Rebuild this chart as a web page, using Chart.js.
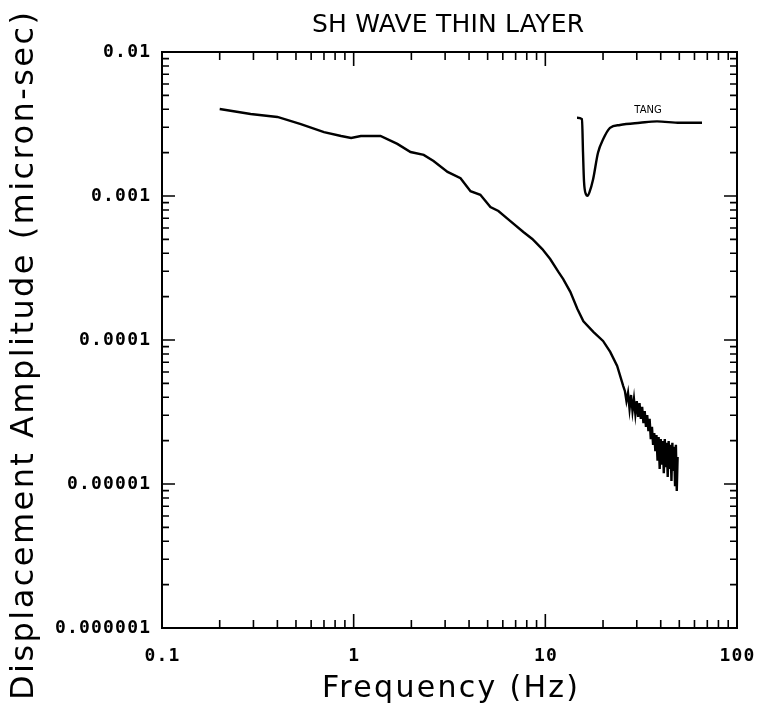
<!DOCTYPE html>
<html>
<head>
<meta charset="utf-8">
<script src="https://cdn.jsdelivr.net/npm/chart.js@4/dist/chart.umd.min.js"></script>
<style>
  body { margin: 0; background: #fff; }
</style>
</head>
<body>
<canvas id="spectrum" width="760" height="710"></canvas>
<script>
// Displacement spectrum, SH wave through a thin layer
const freqHz = [
    0.2, 0.29, 0.4, 0.53, 0.7, 0.86, 0.97, 1.09, 1.38, 1.69, 1.98, 2.32, 2.61, 3.09,
    3.61, 4.07, 4.58, 5.17, 5.69, 6.57, 7.68, 8.55, 9.64, 10.6, 11.7, 12.4, 13.5,
    14.7, 15.8, 17.8, 20.0, 21.8, 23.7, 25.5
];
const amplitude = [
    0.00402, 0.00371, 0.00354, 0.00316, 0.00278, 0.00261, 0.00253, 0.00261, 0.00261,
    0.00230, 0.00202, 0.00193, 0.00175, 0.00147, 0.00133, 0.00108, 0.00102, 0.000839,
    0.000787, 0.000670, 0.000562, 0.000503, 0.000428, 0.000365, 0.000297, 0.000265,
    0.000216, 0.000164, 0.000135, 0.000114, 0.0000985, 0.0000826, 0.0000660, 0.0000479
];
// high-frequency end, where the spectrum turns ragged
const rippleHz = [
    26.0, 26.5, 27.0, 27.5, 28.0, 28.5, 29.0, 29.5, 30.0, 30.5, 31.0, 31.5, 32.0, 32.5,
    33.0, 33.5, 34.0, 34.5, 35.0, 35.5, 36.0, 36.5, 37.0, 37.5, 38.0, 38.5, 39.0, 39.5,
    40.0, 40.5, 41.0, 41.5, 42.0, 42.5, 43.0, 43.5, 44.0, 44.5, 45.0, 45.5, 46.0, 46.5,
    47.0, 47.5, 48.0, 48.5, 49.0
];
const rippleAmp = [
    4.43e-5, 3.77e-5, 4.29e-5, 3.32e-5, 4.15e-5, 3.21e-5, 3.89e-5, 3.06e-5, 3.77e-5, 2.92e-5,
    3.65e-5, 2.83e-5, 3.43e-5, 2.65e-5, 3.21e-5, 2.49e-5, 3.01e-5, 2.33e-5, 2.83e-5, 2.05e-5,
    2.49e-5, 1.87e-5, 2.26e-5, 1.69e-5, 2.19e-5, 1.45e-5, 2.12e-5, 1.27e-5, 2.05e-5, 1.36e-5,
    1.99e-5, 1.19e-5, 2.05e-5, 1.31e-5, 1.93e-5, 1.12e-5, 1.99e-5, 1.27e-5, 1.87e-5, 1.05e-5,
    1.93e-5, 1.23e-5, 1.81e-5, 9.84e-6, 1.87e-5, 8.94e-6, 1.54e-5
];

// transverse (TANG) waveform shown as an inset
const tangTime = [0, 2.0, 2.4, 2.8, 3.6, 4.2, 5.0, 6.4, 8.4, 10.4, 13.2, 17.2, 25.2, 32, 41.2, 50];
const tangVel = [0.07, 0.05, -0.4, -0.8, -0.98, -1.0, -0.95, -0.78, -0.41, -0.23, -0.07, -0.03, 0, 0.02, 0, 0];

const xTicks = [0.1, 1, 10, 100];
const xTickLabels = ['0.1', '1', '10', '100'];
const yTicks = [0.000001, 0.00001, 0.0001, 0.001, 0.01];
const yTickLabels = ['0.000001', '0.00001', '0.0001', '0.001', '0.01'];

function toPoints(xs, ys) {
    return xs.map((x, i) => ({ x: x, y: ys[i] }));
}

// 1..9 times each power of ten between min and max
function decadeTicks(min, max) {
    const out = [];
    for (let e = Math.round(Math.log10(min)); e < Math.round(Math.log10(max)); e++) {
        for (let k = 1; k < 10; k++) out.push({ v: k * Math.pow(10, e), major: k === 1 });
    }
    out.push({ v: max, major: true });
    return out;
}

function spaced(ctx, text, x, y, gap, align) {
    ctx.letterSpacing = '0px';
    const w = ctx.measureText(text).width + gap * (text.length - 1);
    const left = align === 'right' ? x - w : align === 'center' ? x - w / 2 : x;
    ctx.letterSpacing = gap + 'px';
    ctx.textAlign = 'left';
    ctx.fillText(text, left, y);
}

function fitText(ctx, text, cx, y, width) {
    ctx.letterSpacing = '0px';
    const gap = (width - ctx.measureText(text).width) / (text.length - 1);
    spaced(ctx, text, cx, y, gap, 'center');
}

const framePlugin = {
    id: 'frame',
    afterDraw(chart) {
        const { ctx, chartArea: a, scales } = chart;
        ctx.save();
        ctx.strokeStyle = '#000';
        ctx.fillStyle = '#000';

        ctx.lineWidth = 2;
        ctx.strokeRect(a.left, a.top, a.right - a.left, a.bottom - a.top);

        // inward ticks on all four sides
        ctx.lineWidth = 1.6;
        ctx.beginPath();
        decadeTicks(0.1, 100).forEach(t => {
            const px = scales.x.getPixelForValue(t.v);
            const len = t.major ? 14 : 8;
            ctx.moveTo(px, a.bottom); ctx.lineTo(px, a.bottom - len);
            ctx.moveTo(px, a.top); ctx.lineTo(px, a.top + len);
        });
        decadeTicks(0.000001, 0.01).forEach(t => {
            const py = scales.y.getPixelForValue(t.v);
            const len = t.major ? 13 : 7;
            ctx.moveTo(a.left, py); ctx.lineTo(a.left + len, py);
            ctx.moveTo(a.right, py); ctx.lineTo(a.right - len, py);
        });
        ctx.stroke();

        // tick labels
        ctx.font = 'bold 18px "DejaVu Sans Mono"';
        ctx.textBaseline = 'middle';
        yTicks.forEach((v, i) => {
            spaced(ctx, yTickLabels[i], a.left - 12, scales.y.getPixelForValue(v), 1.2, 'right');
        });
        xTicks.forEach((v, i) => {
            spaced(ctx, xTickLabels[i], scales.x.getPixelForValue(v), a.bottom + 28, 1.2, 'center');
        });

        // titles
        ctx.textBaseline = 'alphabetic';
        ctx.font = '25px "DejaVu Sans"';
        fitText(ctx, 'SH WAVE THIN LAYER', 448, 32, 272);
        ctx.font = '30px "DejaVu Sans"';
        fitText(ctx, 'Frequency (Hz)', 450, 697, 256);
        ctx.save();
        ctx.translate(33, 356);
        ctx.rotate(-Math.PI / 2);
        ctx.font = '32px "DejaVu Sans"';
        fitText(ctx, 'Displacement Amplitude (micron-sec)', 0, 0, 688);
        ctx.restore();

        // inset label
        ctx.font = '10px "DejaVu Sans"';
        spaced(ctx, 'TANG', scales.tx.getPixelForValue(28.4), scales.ty.getPixelForValue(0.13), 0, 'center');
        ctx.restore();
    }
};

new Chart(document.getElementById('spectrum'), {
    type: 'scatter',
    data: {
        datasets: [{
            data: toPoints(freqHz.concat(rippleHz), amplitude.concat(rippleAmp)),
            showLine: true,
            borderColor: '#000',
            borderWidth: 2.4,
            pointRadius: 0,
            tension: 0
        }, {
            data: toPoints(tangTime, tangVel),
            xAxisID: 'tx',
            yAxisID: 'ty',
            showLine: true,
            borderColor: '#000',
            borderWidth: 2.4,
            pointRadius: 0,
            cubicInterpolationMode: 'monotone'
        }]
    },
    options: {
        responsive: false,
        animation: false,
        devicePixelRatio: 1,
        layout: { padding: { left: 162, top: 52, right: 23, bottom: 82 } },
        scales: {
            x: { type: 'logarithmic', min: 0.1, max: 100, display: false },
            y: { type: 'logarithmic', min: 0.000001, max: 0.01, display: false },
            tx: { type: 'linear', axis: 'x', min: -166, max: 64, display: false },
            ty: { type: 'linear', axis: 'y', min: -6.92, max: 0.97, display: false }
        },
        plugins: {
            legend: { display: false },
            title: { display: false },
            tooltip: { enabled: false }
        }
    },
    plugins: [framePlugin]
});
</script>
</body>
</html>
